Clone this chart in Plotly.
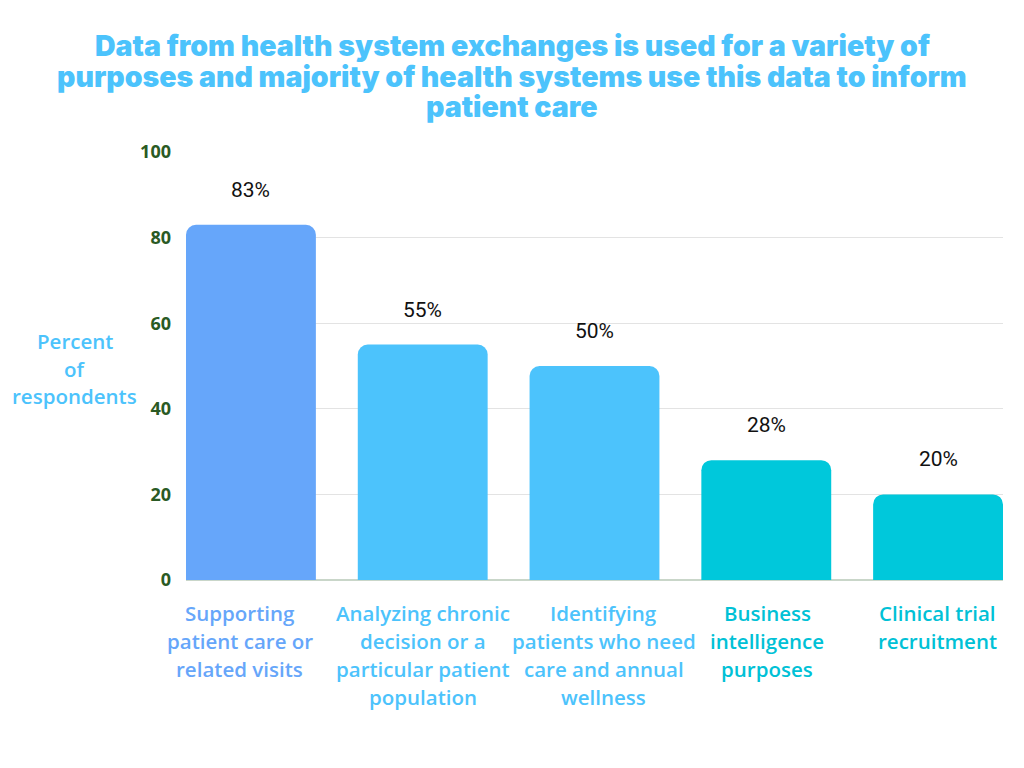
import plotly.graph_objects as go

categories = [
    "Supporting<br>patient care or<br>related visits",
    "Analyzing chronic<br>decision or a<br>particular patient<br>population",
    "Identifying<br>patients who need<br>care and annual<br>wellness",
    "Business<br>intelligence<br>purposes",
    "Clinical trial<br>recruitment",
]
values = [83, 55, 50, 28, 20]
value_labels = ["83%", "55%", "50%", "28%", "20%"]
bar_colors = ["#66a6fa", "#4cc3fc", "#4cc3fc", "#00c8db", "#00c8db"]
label_colors = ["#66a6fa", "#4cc3fc", "#4cc3fc", "#00c1d6", "#00c1d6"]
label_shift_px = [-11, 0, 9, 1, -1]  # style: horizontal nudge of category labels
y_ticks = [0, 20, 40, 60, 80, 100]
title_lines = [
    "Data from health system exchanges is used for a variety of",
    "purposes and majority of health systems use this data to inform",
    "patient care",
]
y_title_lines = ["Percent", "of", "respondents"]

# figure geometry (page is drawn with an 8px body offset)
OFF = 8
W, H = 1024 - OFF, 768 - OFF
PL, PR, PT, PB = 186 - OFF, 1003 - OFF, 152 - OFF, 580 - OFF


def px(xpage):
    return (xpage - OFF - PL) / (PR - PL)


def py(ypage):
    return (PB - (ypage - OFF)) / (PB - PT)


x = list(range(len(categories)))

fig = go.Figure()
fig.add_trace(go.Bar(
    x=x, y=values, marker=dict(color=bar_colors, line=dict(width=0)),
    width=0.756, hoverinfo="skip",
))

annotations = []
for i, (v, t) in enumerate(zip(values, value_labels)):
    annotations.append(dict(x=i, y=v, xref="x", yref="y", text=t, showarrow=False,
                            xanchor="center", yshift=35,
                            font=dict(family="Roboto", size=21, color="#111111")))
for i, (c, col) in enumerate(zip(categories, label_colors)):
    for j, line in enumerate(c.split("<br>")):
        annotations.append(dict(x=i, y=py(613 + 28 * j), xref="x", yref="paper", text=line,
                                showarrow=False, xanchor="center", yanchor="middle",
                                xshift=label_shift_px[i],
                                font=dict(family="Open Sans", size=20.5, color=col, weight=600)))
for j, line in enumerate(y_title_lines):
    annotations.append(dict(x=px(75), y=py(341 + 27.5 * j), xref="paper", yref="paper", text=line,
                            showarrow=False, xanchor="center", yanchor="middle",
                            font=dict(family="Open Sans", size=20.5, color="#4cc3fc", weight=600)))
for j, line in enumerate(title_lines):
    annotations.append(dict(x=px(512), y=py(46 + 30.5 * j), xref="paper", yref="paper", text=line,
                            showarrow=False, xanchor="center", yanchor="middle",
                            font=dict(family="Inter", size=28.5, color="#4cc3fc", weight=900)))

fig.update_layout(
    width=W, height=H,
    margin=dict(l=PL, r=W - PR, t=PT, b=H - PB, pad=0),
    paper_bgcolor="white", plot_bgcolor="white",
    showlegend=False,
    barcornerradius=10,
    annotations=annotations,
    xaxis=dict(range=[-0.378, 4.378], showticklabels=False, showgrid=False, zeroline=False,
               showline=False, fixedrange=True),
    yaxis=dict(range=[0, 100], tickvals=y_ticks, showgrid=True, gridcolor="#e3e3e3", gridwidth=1,
               zeroline=True, zerolinecolor="#c9d6c9", zerolinewidth=1.5,
               ticks="", ticklabelstandoff=14,
               tickfont=dict(family="Open Sans", size=18, color="#2a5a24", weight=700)),
)

fig.write_html("out.html")
